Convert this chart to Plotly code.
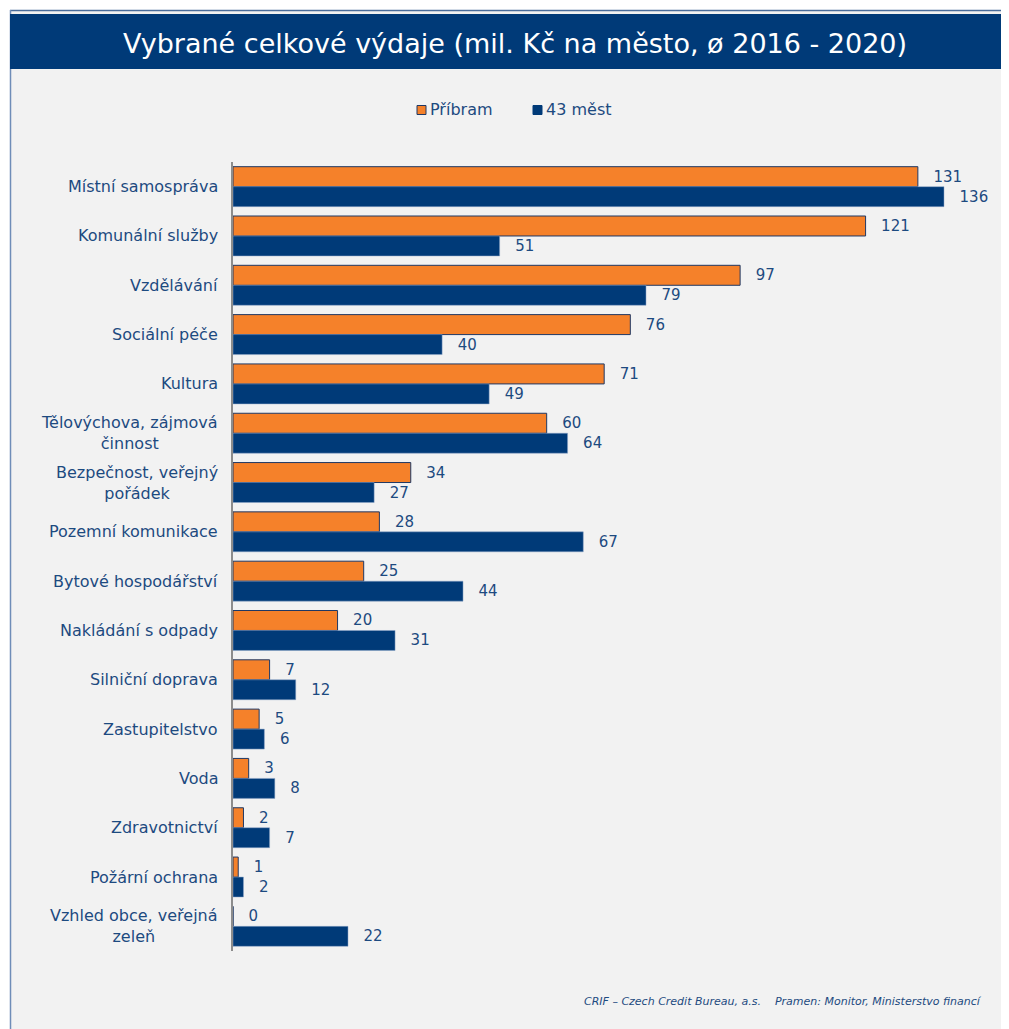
import plotly.graph_objects as go

categories = [
    "Místní samospráva", "Komunální služby", "Vzdělávání", "Sociální péče",
    "Kultura", "Tělovýchova, zájmová<br>činnost", "Bezpečnost, veřejný<br>pořádek",
    "Pozemní komunikace", "Bytové hospodářství", "Nakládání s odpady",
    "Silniční doprava", "Zastupitelstvo", "Voda", "Zdravotnictví",
    "Požární ochrana", "Vzhled obce, veřejná<br>zeleň",
]
pribram = [131, 121, 97, 76, 71, 60, 34, 28, 25, 20, 7, 5, 3, 2, 1, 0]
mest43 = [136, 51, 79, 40, 49, 64, 27, 67, 44, 31, 12, 6, 8, 7, 2, 22]
series_names = ["Příbram", "43 měst"]

title = "Vybrané celkové výdaje (mil. Kč na město, ø 2016 - 2020)"
footer = "CRIF – Czech Credit Bureau, a.s.    Pramen: Monitor, Ministerstvo financí"

ORANGE = "#f5812a"
BLUE = "#003a78"
TXT = "#1d4a80"
FONT = "DejaVu Sans"

OFF = 8  # page body margin
W, H = 1009, 1029
# plot area in reference (screen) pixel positions
AX_L, AX_R, AX_T, AX_B = 233, 990, 162, 951
ML = AX_L - OFF
MR = W - (AX_R - OFF)
MT = AX_T - OFF
MB = H - (AX_B - OFF)
PW, PH = W - ML - MR, H - MT - MB


def px(x):
    return (x - OFF - ML) / PW


def py(y):
    return (H - MB - (y - OFF)) / PH


ids = list(range(len(categories)))
pad = "\u00a0\u00a0\u2009"

fig = go.Figure()
fig.add_trace(go.Bar(
    y=ids, x=pribram, name=series_names[0], orientation="h",
    marker=dict(color=ORANGE, line=dict(color="#1f3864", width=1)),
    text=pribram, texttemplate=pad + "%{x}", textposition="outside",
    textfont=dict(family=FONT, size=15, color=TXT), cliponaxis=False,
))
fig.add_trace(go.Bar(
    y=ids, x=mest43, name=series_names[1], orientation="h",
    marker=dict(color=BLUE, line=dict(color="#8ea6c8", width=0.5)),
    text=mest43, texttemplate=pad + "%{x}", textposition="outside",
    textfont=dict(family=FONT, size=15, color=TXT), cliponaxis=False,
))

shapes = [
    dict(type="rect", xref="paper", yref="paper", x0=px(10), x1=px(1030),
         y0=py(1045), y1=py(10), fillcolor="#f2f2f2", line=dict(width=0), layer="below"),
    dict(type="line", xref="paper", yref="paper", x0=px(10), x1=px(1030),
         y0=py(10.5), y1=py(10.5), line=dict(color="#4a6c9a", width=1.5)),
    dict(type="line", xref="paper", yref="paper", x0=px(10.5), x1=px(10.5),
         y0=py(10), y1=py(1045), line=dict(color="#6f8db8", width=1.5)),
    dict(type="rect", xref="paper", yref="paper", x0=px(10), x1=px(1030),
         y0=py(69), y1=py(14), fillcolor=BLUE, line=dict(width=0)),
    # legend swatches
    dict(type="rect", xref="paper", yref="paper", x0=px(417), x1=px(426),
         y0=py(114.5), y1=py(105.5), fillcolor=ORANGE, line=dict(color="#1f3864", width=1)),
    dict(type="rect", xref="paper", yref="paper", x0=px(533), x1=px(542),
         y0=py(114.5), y1=py(105.5), fillcolor=BLUE, line=dict(color=BLUE, width=1)),
]

annotations = [
    dict(text=title, xref="paper", yref="paper", x=px(515), y=py(43),
         xanchor="center", yanchor="middle", showarrow=False,
         font=dict(family=FONT, size=27, color="white")),
    dict(text="<i>" + footer + "</i>", xref="paper", yref="paper", x=px(984), y=py(1001),
         xanchor="right", yanchor="middle", showarrow=False,
         font=dict(family=FONT, size=11, color=TXT)),
    dict(text=series_names[0], xref="paper", yref="paper", x=px(428), y=py(110),
         xanchor="left", yanchor="middle", showarrow=False,
         font=dict(family=FONT, size=16, color=TXT)),
    dict(text=series_names[1], xref="paper", yref="paper", x=px(544), y=py(110),
         xanchor="left", yanchor="middle", showarrow=False,
         font=dict(family=FONT, size=16, color=TXT)),
]
for i, c in enumerate(categories):
    annotations.append(dict(
        text=c, xref="paper", yref="y", x=px(220), y=i, xanchor="right",
        yanchor="middle", align="center", showarrow=False,
        font=dict(family=FONT, size=16, color=TXT)))

fig.update_layout(
    width=W, height=H,
    margin=dict(l=ML, r=MR, t=MT, b=MB, pad=0),
    paper_bgcolor="white", plot_bgcolor="rgba(0,0,0,0)",
    barmode="group", bargap=0.19, bargroupgap=0.0,
    showlegend=False,
    xaxis=dict(range=[0, (AX_R - AX_L) / (711 / 136)], showgrid=False, zeroline=False,
               showticklabels=False, showline=False, fixedrange=True),
    yaxis=dict(autorange="reversed", showgrid=False, zeroline=False, showticklabels=False,
               showline=True, linecolor="#8c8c8c", linewidth=2, ticks=""),
    shapes=shapes, annotations=annotations,
    font=dict(family=FONT, color=TXT),
)

fig.write_html("out.html")
